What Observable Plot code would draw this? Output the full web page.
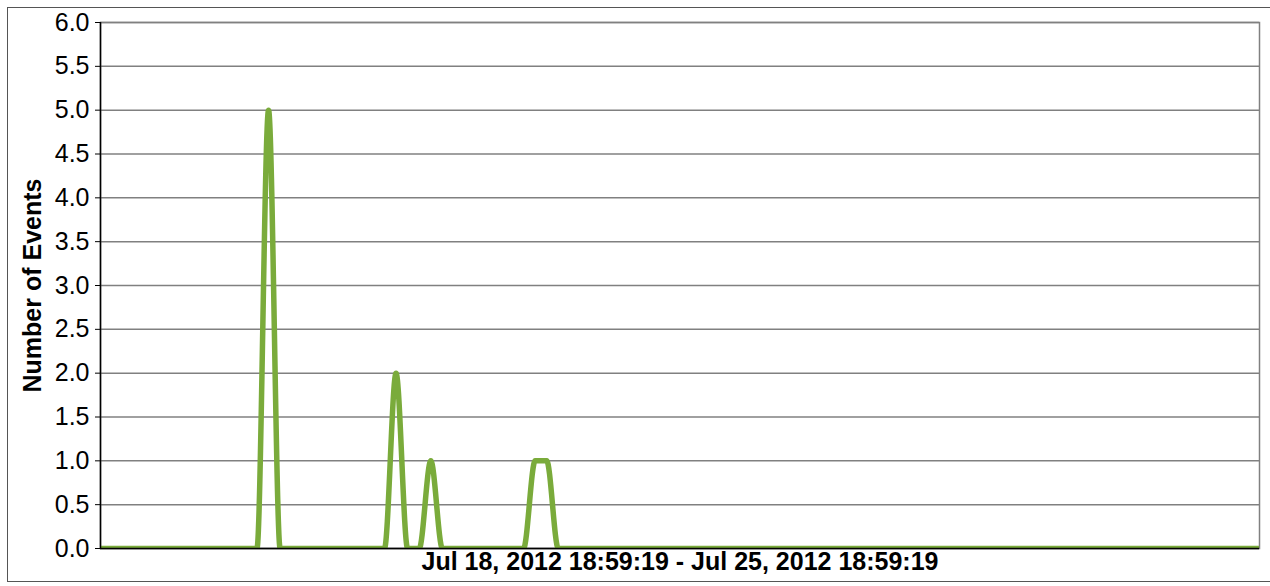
<!DOCTYPE html>
<html>
<head>
<meta charset="utf-8">
<script src="https://cdn.jsdelivr.net/npm/d3@7"></script>
<script src="https://cdn.jsdelivr.net/npm/@observablehq/plot@0.6"></script>
<style>
  html, body { margin: 0; padding: 0; background: #fff; }
  #wrap { position: relative; width: 1270px; height: 586px; overflow: hidden; }
  #border { position: absolute; left: 7px; top: 7px; width: 1280px; height: 575px; border: 1.5px solid #555; pointer-events: none; box-sizing: border-box; }
  #chart { position: absolute; left: 0; top: 0; }
</style>
</head>
<body>
<div id="wrap"><div id="chart"></div><div id="border"></div></div>
<script>
// Data: 100 time buckets across the range, sparse event counts
const bucketCount = 100;
const eventBuckets = [14, 25, 28, 37, 38];
const eventCounts = [5, 2, 1, 1, 1];
const yTicks = [0, 0.5, 1, 1.5, 2, 2.5, 3, 3.5, 4, 4.5, 5, 5.5, 6];
const xLabel = "Jul 18, 2012 18:59:19 - Jul 25, 2012 18:59:19";
const yLabel = "Number of Events";

// Build the series (empty buckets are zero); one extra empty bucket each side is clipped
const series = [];
for (let i = -1; i <= bucketCount; i++) {
  const k = eventBuckets.indexOf(i);
  series.push({x: i + 0.5, y: k >= 0 ? eventCounts[k] : 0});
}

const green = "#7aab3b";

const chart = Plot.plot({
  width: 1270,
  height: 586,
  marginLeft: 100,
  marginRight: 11,
  marginTop: 22,
  marginBottom: 38,
  style: {fontFamily: "'Liberation Sans', Arial, sans-serif", color: "black", background: "transparent"},
  x: {domain: [0, bucketCount], axis: null},
  y: {domain: [0, 6], axis: null},
  marks: [
    Plot.frame({stroke: "#808080", strokeWidth: 1.5}),
    Plot.gridY({ticks: yTicks, stroke: "#808080", strokeOpacity: 1, strokeWidth: 1.5}),
    Plot.line(series, {x: "x", y: "y", curve: "monotone-x", stroke: green, strokeWidth: 5.5, clip: true}),
    Plot.ruleY([0], {stroke: "black", strokeWidth: 1.5}),
    Plot.ruleX([0], {stroke: "black", strokeWidth: 1.5}),
    Plot.axisY({ticks: yTicks, tickSize: 5, tickPadding: 6, fontSize: 25, tickFormat: d3.format(".1f"), label: null, color: "black"}),
    Plot.text([xLabel], {text: d => d, frameAnchor: "bottom", dy: 21, fontSize: 25, fontWeight: "bold", fill: "black"}),
    Plot.text([yLabel], {text: d => d, frameAnchor: "left", textAnchor: "middle", dx: -68, rotate: -90, fontSize: 25, fontWeight: "bold", fill: "black"})
  ]
});
document.getElementById("chart").appendChild(chart);
</script>
</body>
</html>
